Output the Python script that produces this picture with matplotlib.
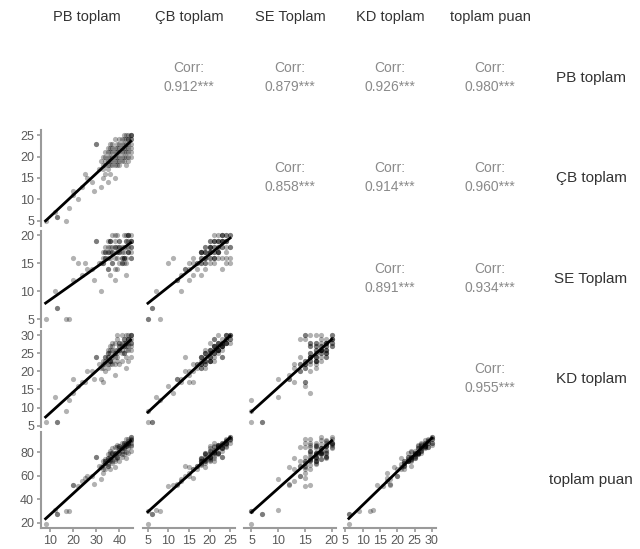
import numpy as np
import matplotlib
matplotlib.use('Agg')
from matplotlib import pyplot as plt

plt.rcParams['font.family'] = ['Liberation Sans', 'DejaVu Sans']

labels = ['PB toplam', 'ÇB toplam', 'SE Toplam', 'KD toplam', 'toplam puan']

# one entry per respondent
pb = [8, 13, 13, 17, 12, 18, 20, 22, 20, 24, 29, 30, 30, 28, 32, 33, 38, 36, 43, 40,
      26, 34, 31, 35, 25,
      45, 45, 44, 45, 44, 43, 45, 42, 44, 43, 45, 41, 40, 42, 44, 43, 39, 40, 38, 41,
      37, 36, 39, 38, 35, 36, 37, 34, 35, 40, 42, 43, 41, 44, 45, 39, 38, 42, 40, 37,
      36, 34, 33, 35, 36, 38, 39, 41, 43, 44, 45, 42, 40, 37, 35, 34, 33, 36, 38, 41,
      43, 44, 45, 42, 40, 39, 37, 36, 35, 34, 32, 33, 35, 37, 39, 42, 44, 45, 41, 38]
cb = [5, 6, 6, 5, 7, 8, 11, 10, 12, 13, 12, 23, 23, 14, 13, 15, 15, 16, 18, 18,
      15, 16, 17, 14, 16,
      25, 25, 25, 24, 24, 25, 23, 24, 22, 23, 25, 22, 23, 21, 24, 22, 21, 20, 22, 21,
      20, 21, 19, 20, 19, 18, 19, 18, 20, 22, 23, 24, 24, 23, 22, 23, 24, 25, 21, 22,
      20, 19, 18, 18, 19, 18, 20, 19, 21, 20, 21, 20, 19, 21, 21, 20, 20, 22, 21, 23,
      20, 21, 24, 22, 24, 22, 23, 23, 22, 21, 19, 17, 17, 18, 18, 19, 19, 20, 20, 19]
se = [5, 7, 7, 5, 10, 5, 16, 15, 12, 13, 12, 19, 19, 14, 10, 15, 12, 13, 13, 15,
      14, 16, 15, 14, 15,
      20, 18, 20, 16, 19, 15, 19, 20, 17, 20, 18, 16, 18, 15, 17, 19, 18, 17, 18, 16,
      17, 19, 16, 18, 16, 17, 15, 17, 19, 17, 16, 18, 15, 20, 19, 14, 20, 16, 19, 17,
      16, 17, 16, 17, 18, 16, 17, 17, 16, 18, 17, 18, 18, 18, 17, 18, 17, 19, 19, 18,
      19, 20, 19, 17, 19, 20, 20, 19, 18, 16, 15, 15, 14, 15, 17, 16, 17, 16, 15, 14]
kd = [6, 6, 6, 9, 13, 12, 14, 16, 18, 17, 18, 24, 24, 20, 18, 17, 19, 22, 21, 22,
      20, 20, 22, 24, 17,
      30, 30, 29, 30, 29, 30, 28, 29, 28, 27, 29, 28, 27, 29, 30, 26, 26, 26, 25, 27,
      24, 25, 25, 26, 24, 23, 23, 24, 25, 28, 27, 28, 30, 27, 26, 29, 28, 28, 27, 26,
      23, 22, 22, 21, 23, 24, 23, 25, 24, 26, 27, 25, 26, 27, 25, 24, 23, 26, 25, 26,
      28, 29, 28, 27, 28, 30, 28, 27, 26, 23, 21, 21, 22, 22, 24, 25, 23, 24, 23, 22]
tp = [19, 27, 27, 30, 31, 30, 52, 51, 52, 55, 53, 76, 76, 60, 57, 62, 67, 66, 75, 72,
      60, 66, 68, 68, 58,
      93, 93, 91, 91, 89, 91, 88, 88, 86, 87, 90, 84, 83, 84, 88, 85, 80, 79, 79, 81,
      76, 77, 76, 78, 73, 72, 72, 72, 75, 85, 86, 87, 88, 88, 86, 84, 84, 88, 82, 79,
      73, 71, 69, 70, 74, 74, 76, 78, 80, 83, 85, 81, 79, 79, 75, 74, 72, 79, 79, 83,
      85, 88, 90, 83, 85, 86, 83, 81, 78, 72, 67, 66, 68, 71, 75, 78, 79, 81, 76, 72]

corr_text = {(0, 1): '0.912***', (0, 2): '0.879***', (0, 3): '0.926***', (0, 4): '0.980***',
             (1, 2): '0.858***', (1, 3): '0.914***', (1, 4): '0.960***',
             (2, 3): '0.891***', (2, 4): '0.934***',
             (3, 4): '0.955***'}

limits = [(6, 46), (3.8, 26.2), (3.6, 20.8), (4.6, 31.2), (15.5, 97)]
ticks = [[10, 20, 30, 40], [5, 10, 15, 20, 25], [5, 10, 15, 20],
         [5, 10, 15, 20, 25, 30], [20, 40, 60, 80]]

data = [np.array(v, dtype=float) for v in (pb, cb, se, kd, tp)]

W, H = 640, 549
fig = plt.figure(figsize=(W / 100, H / 100), dpi=100)

col_left = [41, 143, 244, 344, 444]
row_top = [30, 130, 231, 331, 432]
aw, ah = 92, 96
axis_grey = '#9a9a9a'
text_grey = '#5a5a5a'

for i in range(5):
    for j in range(5):
        ax = fig.add_axes([col_left[j] / W, 1 - (row_top[i] + ah) / H, aw / W, ah / H])
        for s in ax.spines.values():
            s.set_visible(False)
        ax.set_xticks([])
        ax.set_yticks([])
        ax.patch.set_alpha(0)
        if i < j:
            ax.set_xlim(0, 1)
            ax.set_ylim(0, 1)
            ax.text(0.5, 0.6, 'Corr:', ha='center', va='center', fontsize=10, color='#8a8a8a')
            ax.text(0.5, 0.41, corr_text[(i, j)], ha='center', va='center', fontsize=10, color='#8a8a8a')
            continue
        if i == j:
            continue
        x = data[j]
        y = data[i]
        ax.scatter(x, y, s=14, color='black', alpha=0.3, linewidths=0)
        b, a = np.polyfit(x, y, 1)
        xs = np.array([x.min(), x.max()])
        ax.plot(xs, a + b * xs, color='black', lw=2)
        ax.set_xlim(*limits[j])
        ax.set_ylim(*limits[i])
        if j == 0:
            ax.spines['left'].set_visible(True)
            ax.spines['left'].set_color(axis_grey)
            ax.spines['left'].set_linewidth(1.5)
            ax.set_yticks(ticks[i])
            ax.tick_params(axis='y', colors=axis_grey, labelcolor=text_grey, labelsize=9,
                           length=3, width=1.2, pad=2)
        if i == 4:
            ax.spines['bottom'].set_visible(True)
            ax.spines['bottom'].set_color(axis_grey)
            ax.spines['bottom'].set_linewidth(1.5)
            ax.set_xticks(ticks[j])
            ax.tick_params(axis='x', colors=axis_grey, labelcolor=text_grey, labelsize=9,
                           length=3, width=1.2, pad=2)

for j, lab in enumerate(labels):
    fig.text((col_left[j] + aw / 2) / W, 1 - 17 / H, lab, ha='center', va='center',
             fontsize=10.5, color='#333333')
for i, lab in enumerate(labels):
    fig.text(591 / W, 1 - (row_top[i] + ah / 2) / H, lab, ha='center', va='center',
             fontsize=11, color='#333333')

fig.savefig('out.png', dpi=100)
